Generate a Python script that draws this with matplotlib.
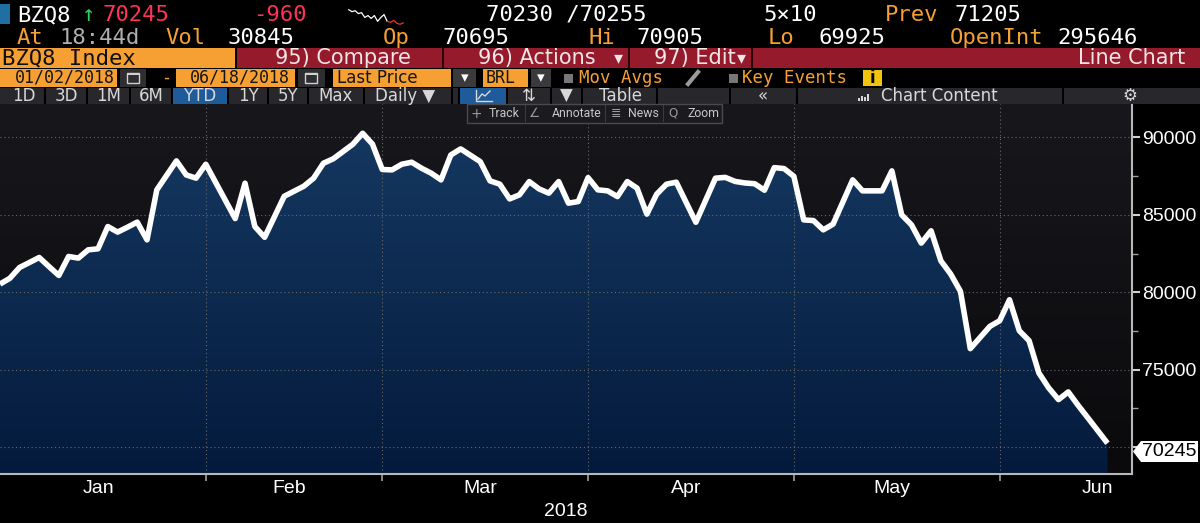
import numpy as np
import pandas as pd
import matplotlib
matplotlib.use('Agg')
import matplotlib.pyplot as plt
from matplotlib.patches import Rectangle, Polygon
from matplotlib.lines import Line2D
from matplotlib.colors import LinearSegmentedColormap

W, H = 1200, 523

# B3 trading calendar 2018 (holidays removed), plotted by trading day
holidays = pd.to_datetime(['2018-01-25', '2018-02-12', '2018-02-13',
                           '2018-03-30', '2018-05-01', '2018-05-31'])
days = pd.bdate_range('2018-01-02', '2018-06-29')
days = days[~days.isin(holidays)]
dates = days[days <= '2018-06-18']

# BZQ8 daily last price
close = [
    80530, 80900, 81600, 81920, 82245, 81660, 81085, 82310, 82205, 82740,
    82805, 84245, 83885, 84200, 84530, 83385, 86615, 87550, 88485, 87580,
    87370, 88270, 87100, 85930, 84760, 87045, 84245, 83550, 84875, 86200,
    86525, 86850, 87370, 88335, 88620, 89090, 89560, 90270, 89570, 87930,
    87905, 88270, 88400, 88015, 87690, 87260, 88870, 89260, 88850, 88440,
    87195, 86980, 86030, 86290, 87150, 86675, 86400, 87150, 85755, 85860,
    87405, 86615, 86550, 86180, 87150, 86725, 85045, 86335, 86980, 87110,
    85815, 84520, 85945, 87370, 87420, 87160, 87060, 87010, 86590, 88050,
    87990, 87490, 84675, 84630, 84030, 84400, 85830, 87260, 86550, 86550,
    86550, 87840, 85000, 84355, 83175, 83970, 82030, 81175, 80055, 76355,
    77075, 77795, 78160, 79515, 77515, 76870, 74785, 73820, 73065, 73560,
    72695, 71885, 71065, 70245]

y_ticks = [70000, 75000, 80000, 85000, 90000]
y_labels = ['', '75000', '80000', '85000', '90000']
y_minor = [72500, 77500, 82500, 87500]
month_names = ['Jan', 'Feb', 'Mar', 'Apr', 'May', 'Jun']
last_price = 70245

# intraday sparkline in the header (white part, red part)
spark_white = [9, 8, 8.5, 7, 7.5, 5, 6, 4.5, 6, 3, 5, 6.5, 3]
spark_red = [3, 2.5, 3.5, 2, 1.5, 2.2]

ORANGE = '#f6a033'
RED = '#951a2c'
BTN = '#28282c'
BLUE = '#1f5b9b'

fig = plt.figure(figsize=(12, 5.23), dpi=100, facecolor='black')


def box(x0, y0, x1, y1, color, ec='none', lw=0, z=1):
    fig.patches.append(Rectangle((x0 / W, 1 - y1 / H), (x1 - x0) / W, (y1 - y0) / H,
                                 transform=fig.transFigure, facecolor=color,
                                 edgecolor=ec, linewidth=lw, zorder=z))


def txt(x, y, s, color='white', size=16, family='DejaVu Sans Mono', ha='left', **kw):
    fig.text(x / W, 1 - y / H, s, color=color, fontsize=size, family=family,
             ha=ha, va='center', **kw)


def line(xs, ys, color, lw, z=2):
    fig.lines.append(Line2D([x / W for x in xs], [1 - y / H for y in ys],
                            transform=fig.transFigure, color=color, lw=lw, zorder=z))


# ---- row 1 / row 2: quote header
box(0, 4, 10, 24, '#1f6fa3')
txt(17, 15, 'BZQ8')
txt(82, 15, '↑', color='#2fd05a')
txt(103, 15, '70245', color='#ff3355')
txt(253, 15, '-960', color='#ff3355')
txt(486, 15, '70230 /70255')
txt(763, 15, '5×10')
txt(885, 15, 'Prev', color=ORANGE)
txt(954, 15, '71205')

txt(17, 38, 'At', color=ORANGE)
txt(59, 38, '18:44d', color='#b0b0b0')
txt(165, 38, 'Vol', color=ORANGE)
txt(228, 38, '30845')
txt(383, 38, 'Op', color=ORANGE)
txt(442, 38, '70695')
txt(589, 38, 'Hi', color=ORANGE)
txt(636, 38, '70905')
txt(768, 38, 'Lo', color=ORANGE)
txt(818, 38, '69925')
txt(950, 38, 'OpenInt', color=ORANGE)
txt(1057, 38, '295646')

sax = fig.add_axes([346 / W, 1 - 25 / H, 60 / W, 16 / H])
sax.axis('off')
nw = len(spark_white)
sax.plot(range(nw), spark_white, color='white', lw=0.9)
sax.plot(range(nw - 1, nw - 1 + len(spark_red)), spark_red, color='#ff2a2a', lw=0.9)

# ---- row 3: security / action bar
box(0, 48, 235, 68, ORANGE)
txt(2, 58, 'BZQ8 Index', color='#101010')
box(237, 48, 1200, 68, RED)
for sx in (442, 628, 751):
    box(sx, 48, sx + 2, 68, '#2a0508')
fg = '#f3e6e6'
txt(275, 58, '95) Compare', color=fg, size=15, family='DejaVu Sans')
txt(478, 58, '96) Actions', color=fg, size=15, family='DejaVu Sans')
txt(614, 58, '▾', color=fg, size=13, family='DejaVu Sans')
txt(654, 58, '97) Edit', color=fg, size=15, family='DejaVu Sans')
txt(737, 58, '▾', color=fg, size=13, family='DejaVu Sans')
txt(1185, 58, 'Line Chart', color=fg, size=15, family='DejaVu Sans', ha='right')

# ---- row 4: date range / field selection
dark = '#151515'
box(0, 69, 117, 87, ORANGE)
txt(15, 78, '01/02/2018', color=dark, size=12)
box(120, 69, 146, 87, '#2e2e31')
box(127, 73, 139, 83, 'none', ec='#d0d0d0', lw=1, z=2)
box(127, 73, 139, 75, '#d0d0d0', z=2)
txt(161, 78, '-', color=ORANGE, size=12)
box(176, 69, 295, 87, ORANGE)
txt(190, 78, '06/18/2018', color=dark, size=12)
box(298, 69, 325, 87, '#2e2e31')
box(305, 73, 317, 83, 'none', ec='#d0d0d0', lw=1, z=2)
box(305, 73, 317, 75, '#d0d0d0', z=2)
box(333, 69, 451, 87, ORANGE)
txt(337, 78, 'Last Price', color=dark, size=12, family='DejaVu Sans')
box(453, 69, 476, 87, '#3a3a3d')
txt(464.5, 78, '▾', size=11, family='DejaVu Sans', ha='center')
box(483, 69, 528, 87, ORANGE)
txt(486, 78, 'BRL', color=dark, size=12)
box(531, 69, 551, 87, '#3a3a3d')
txt(541, 78, '▾', size=11, family='DejaVu Sans', ha='center')
box(564, 74, 573, 83, '#777777')
txt(579, 78, 'Mov Avgs', color=ORANGE, size=12.5)
line([688, 698], [84, 72], '#9a9a9a', 3)
box(729, 74, 738, 83, '#777777')
txt(742, 78, 'Key Events', color=ORANGE, size=12.5)
box(863, 70, 882, 86, '#f1c40f')
txt(872.5, 78, 'i', color='black', size=12, family='DejaVu Sans', ha='center', weight='bold')

# ---- row 5: period buttons / chart options
box(0, 88, 1200, 104, BTN)
box(173, 88, 228, 104, BLUE)
box(460, 88, 507, 104, BLUE)
for sx in (45, 87, 130, 172, 228, 268, 308, 364, 452, 459, 507, 551, 582, 657, 730, 797, 1063):
    box(sx - 1, 88, sx + 1, 104, '#000000')
bt = '#d8d8d8'
for bx, lab in [(24, '1D'), (66, '3D'), (109, '1M'), (151, '6M'), (200, 'YTD'),
                (248, '1Y'), (288, '5Y'), (336, 'Max'), (405, 'Daily ▼'),
                (529, '⇅'), (566, '▼'), (620, 'Table'), (763, '«'), (1130, '⚙')]:
    txt(bx, 96, lab, color=bt, size=12, family='DejaVu Sans', ha='center')
line([476, 476, 492], [90, 101, 101], bt, 1)
line([478, 482, 485, 490], [99, 94, 96, 91], bt, 1)
for k, hgt in enumerate([3, 5, 4, 7]):
    box(858 + 3 * k, 101 - hgt, 860 + 3 * k, 101, bt, z=2)
txt(881, 96, 'Chart Content', color=bt, size=12, family='DejaVu Sans')

# ---- main chart
ax = fig.add_axes([0, 1 - 474 / H, 1132 / W, 370 / H])
xmax = 115.5
ymin, ymax = 68258, 92161
idx = np.arange(len(dates))

bg = LinearSegmentedColormap.from_list('bg', ['#18181c', '#0a0a0d'])
ax.imshow(np.linspace(0, 1, 256).reshape(-1, 1), extent=[0, xmax, ymin, ymax],
          aspect='auto', cmap=bg, zorder=0)

fillmap = LinearSegmentedColormap.from_list('fill', ['#163a63', '#041a3c'])
poly = ax.fill_between(idx, close, ymin, facecolor='none', edgecolor='none')
grad = ax.imshow(np.linspace(0, 1, 256).reshape(-1, 1), extent=[0, xmax, ymin, ymax],
                 aspect='auto', cmap=fillmap, zorder=1)
grad.set_clip_path(poly.get_paths()[0], transform=ax.transData)

ax.plot(idx, close, color='white', lw=4.0, solid_joinstyle='round',
        solid_capstyle='butt', zorder=4)

ax.set_xlim(0, xmax)
ax.set_ylim(ymin, ymax)

month_of = days.month
month_start = [int(np.argmax(month_of == m)) for m in range(2, 7)]
month_mid = [float(np.mean(np.where(month_of == m)[0])) for m in range(1, 7)]

ax.set_xticks(month_start)
ax.set_xticks(month_mid, labels=month_names, minor=True)
ax.tick_params(axis='x', which='major', length=5, width=1.2, color='#a0a0a0',
               labelbottom=False)
ax.tick_params(axis='x', which='minor', length=0, pad=4, labelsize=14,
               labelcolor='white')
for t in ax.get_xticklabels(minor=True):
    t.set_family('Liberation Sans')

ax.yaxis.tick_right()
ax.set_yticks(y_ticks, labels=y_labels)
ax.set_yticks(y_minor, minor=True)
ax.tick_params(axis='y', which='major', direction='out', length=6, width=1.5,
               color='#d0d0d0', labelsize=14, labelcolor='white', pad=1)
ax.tick_params(axis='y', which='minor', direction='out', length=4, width=1,
               color='#a0a0a0')
for t in ax.get_yticklabels():
    t.set_family('Liberation Sans')

ax.grid(True, which='major', color='#6a6a6a', linestyle=(0, (1, 2.5)), linewidth=0.8)
for s in ('top', 'left'):
    ax.spines[s].set_visible(False)
for s in ('right', 'bottom'):
    ax.spines[s].set_color('#b8b8b8')
    ax.spines[s].set_linewidth(1.5)

txt(566, 511, '2018', size=14, family='Liberation Sans', ha='center')

# last price marker on the right axis
pts = [(1133, 451.5), (1141, 441), (1198, 441), (1198, 462), (1141, 462)]
fig.patches.append(Polygon([(x / W, 1 - y / H) for x, y in pts], closed=True,
                           transform=fig.transFigure, facecolor='white',
                           edgecolor='none', zorder=3))
txt(1169, 451.5, str(last_price), color='black', size=14, family='Liberation Sans',
    ha='center', zorder=4)

# ---- chart toolbar overlay
box(467, 104, 722, 123, '#1b1b1f', ec='#4a4a4e', lw=1, z=3)
for sx in (525, 605, 663):
    box(sx, 105, sx + 1, 122, '#3c3c40', z=3)
tb = '#c8c8c8'
txt(476, 113.5, '+', color='#9a9a9a', size=10, family='DejaVu Sans', ha='center', zorder=4)
txt(489, 113.5, 'Track', color=tb, size=8.8, family='Roboto', zorder=4)
txt(535, 113.5, '∠', color='#9a9a9a', size=9, family='DejaVu Sans', ha='center', zorder=4)
txt(552, 113.5, 'Annotate', color=tb, size=8.8, family='Roboto', zorder=4)
txt(616, 113.5, '≣', color='#9a9a9a', size=9, family='DejaVu Sans', ha='center', zorder=4)
txt(628, 113.5, 'News', color=tb, size=8.8, family='Roboto', zorder=4)
txt(673, 113, 'Q', color='#9a9a9a', size=8.5, family='DejaVu Sans', ha='center', zorder=4)
txt(687, 113.5, 'Zoom', color=tb, size=8.8, family='Roboto', zorder=4)

fig.savefig('out.png', dpi=100, facecolor='black')
